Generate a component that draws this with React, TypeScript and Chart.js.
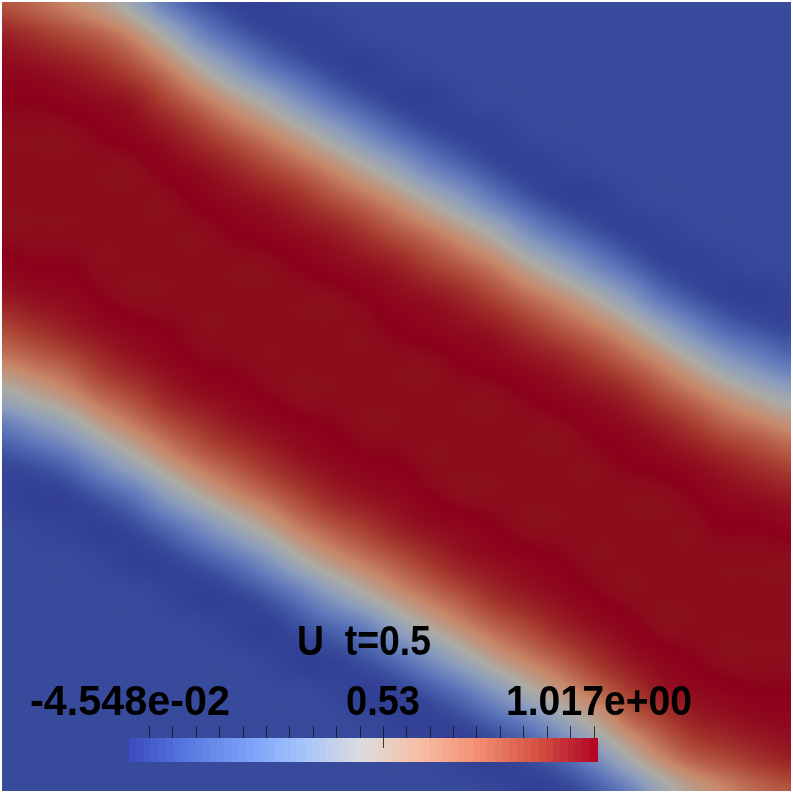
import React, { useEffect, useRef } from "react";
import { Chart, registerables } from "chart.js";

Chart.register(...registerables);

const uColumns: number[][] = [
  [.80,.93,.98,1,1.01,1.01,1.01,1.01,.99,.945,.83,.68,.43,.135,0,-.02,0,0,0,0,0,0,0,0,0],
  [.75,.885,.97,1,1.01,1.01,1.01,1.01,1,.97,.88,.74,.53,.24,.03,-.03,-.01,0,0,0,0,0,0,0,0],
  [.68,.83,.945,.99,1.01,1.01,1.01,1.01,1,.98,.93,.80,.635,.365,.10,-.02,-.02,0,0,0,0,0,0,0,0],
  [.58,.77,.90,.975,1,1.01,1.01,1.01,1.01,1,.97,.89,.755,.545,.26,.04,-.03,-.01,0,0,0,0,0,0,0],
  [.41,.66,.82,.945,.985,1.01,1.01,1.01,1.01,1.01,.99,.945,.835,.68,.44,.14,0,-.03,0,0,0,0,0,0,0],
  [.155,.46,.70,.845,.95,.99,1.01,1.01,1.01,1.01,1,.98,.92,.79,.61,.34,.085,-.02,-.015,0,0,0,0,0,0],
  [.03,.22,.515,.735,.875,.965,.995,1.01,1.01,1.01,1.01,1,.965,.87,.735,.515,.22,.03,-.03,-.005,0,0,0,0,0],
  [-.02,.075,.32,.60,.785,.915,.975,1,1.01,1.01,1.01,1.005,.985,.935,.815,.655,.39,.115,-.015,-.02,0,0,0,0,0],
  [-.03,0,.15,.455,.69,.84,.95,.99,1.01,1.01,1.01,1.01,1,.97,.89,.755,.545,.26,.04,-.03,-.01,0,0,0,0],
  [-.01,-.025,.05,.275,.56,.765,.90,.97,1,1.01,1.01,1.01,1.01,.99,.95,.845,.695,.46,.155,.01,-.03,0,0,0,0],
  [0,-.02,-.01,.12,.40,.66,.82,.94,.985,1.01,1.01,1.01,1.01,1,.98,.92,.79,.61,.33,.08,-.02,-.01,0,0,0],
  [0,-.005,-.03,.03,.23,.52,.74,.88,.965,1,1.01,1.01,1.01,1.01,.995,.96,.86,.715,.49,.17,.02,-.03,-.005,0,0],
  [0,0,-.015,-.02,.095,.36,.63,.80,.93,.98,1,1.01,1.01,1.01,1,.98,.93,.80,.635,.365,.10,-.02,-.02,0,0],
  [0,0,-.005,-.03,.015,.185,.48,.72,.855,.96,.99,1.01,1.01,1.01,1.01,1,.97,.88,.74,.53,.24,.03,-.025,-.005,0],
  [0,0,0,-.01,-.02,.075,.32,.60,.785,.915,.975,1,1.01,1.01,1.01,1.01,.985,.945,.825,.665,.41,.125,-.01,-.02,0],
  [0,0,0,0,-.025,0,.15,.455,.69,.84,.95,.99,1.01,1.01,1.01,1.01,1,.975,.905,.77,.58,.28,.055,-.025,-.01],
  [0,0,0,0,-.005,-.025,.035,.25,.54,.75,.885,.97,1,1.01,1.01,1.01,1.01,.99,.95,.845,.695,.46,.155,.01,-.03],
  [0,0,0,0,0,-.015,-.02,.11,.38,.65,.81,.935,.985,1.01,1.01,1.01,1.01,1,.98,.92,.79,.61,.33,.08,-.02],
  [0,0,0,0,0,-.005,-.03,.025,.21,.51,.73,.87,.965,.995,1.01,1.01,1.01,1.01,1,.965,.88,.74,.52,.23,.03],
  [0,0,0,0,0,0,-.01,-.02,.08,.33,.61,.79,.92,.98,1,1.01,1.01,1.01,1.01,.99,.95,.85,.71,.46,.165],
  [0,0,0,0,0,0,0,-.02,-.005,.135,.43,.68,.83,.945,.99,1.01,1.01,1.01,1.01,1.01,.985,.94,.82,.66,.40],
  [0,0,0,0,0,0,0,-.005,-.025,.03,.24,.53,.74,.88,.97,1,1.01,1.01,1.01,1.01,1,.975,.91,.78,.58],
  [0,0,0,0,0,0,0,0,-.015,-.02,.095,.36,.63,.80,.93,.98,1,1.01,1.01,1.01,1.01,.99,.945,.835,.68],
  [0,0,0,0,0,0,0,0,-.005,-.03,.03,.23,.52,.74,.88,.965,1,1.01,1.01,1.01,1.01,1,.97,.89,.755],
  [0,0,0,0,0,0,0,0,0,-.02,-.005,.13,.42,.67,.83,.94,.99,1.01,1.01,1.01,1.01,1,.98,.93,.80],
];

const fieldStops: [number, number, number, number][] = [
  [-0.045, 46, 58, 145], [0, 56, 74, 155], [0.04, 68, 92, 168], [0.14, 95, 120, 186], [0.32, 138, 155, 190],
  [0.5, 172, 172, 165], [0.68, 200, 135, 105], [0.84, 172, 70, 52], [0.93, 153, 32, 37],
  [0.98, 144, 9, 30], [1.0, 140, 0, 27], [1.01, 140, 14, 28], [1.017, 140, 20, 30],
];
const barStops: [number, number, number, number][] = [
  [0, 59, 76, 192], [0.12, 88, 118, 224], [0.28, 130, 170, 252], [0.38, 170, 198, 250],
  [0.5, 221, 221, 221], [0.62, 248, 190, 165], [0.75, 242, 140, 112], [0.88, 210, 78, 64], [1, 180, 4, 38],
];

const colorMin = -0.04548;
const colorMax = 1.017;
const legendTicks = [0, .0531, .1062, .1593, .2124, .2655, .3186, .3717, .4248, .4779, .531, .5841, .6372, .6903, .7434, .7965, .8496, .9027, .9558, 1.0092];
const legendLongTick = 0.531;
const legendSteps = 64;
const title = "U  t=0.5";
const labelMin = "-4.548e-02";
const labelMid = "0.53";
const labelMax = "1.017e+00";

function lookup(stops: number[][], v: number) {
  if (v <= stops[0][0]) return stops[0].slice(1);
  for (let k = 1; k < stops.length; k++) {
    if (v <= stops[k][0]) {
      const a = stops[k - 1], b = stops[k], f = (v - a[0]) / (b[0] - a[0]);
      return [a[1] + (b[1] - a[1]) * f, a[2] + (b[2] - a[2]) * f, a[3] + (b[3] - a[3]) * f];
    }
  }
  return stops[stops.length - 1].slice(1);
}

function cubic(a: number, b: number, c: number, d: number, t: number) {
  return b + 0.5 * t * (c - a + t * (2 * a - 5 * b + 4 * c - d + t * (3 * (b - c) + d - a)));
}

function sampleField(grid: number[][], x: number, y: number) {
  const n = grid.length - 1;
  const cl = (k: number) => Math.max(0, Math.min(n, k));
  const i = Math.min(n - 1, Math.max(0, Math.floor(x)));
  const j = Math.min(n - 1, Math.max(0, Math.floor(y)));
  const tx = x - i, ty = y - j;
  const rows = [-1, 0, 1, 2].map((dj) =>
    cubic(grid[cl(i - 1)][cl(j + dj)], grid[cl(i)][cl(j + dj)], grid[cl(i + 1)][cl(j + dj)], grid[cl(i + 2)][cl(j + dj)], tx)
  );
  return cubic(rows[0], rows[1], rows[2], rows[3], ty);
}

const fieldPlugin = {
  id: "fieldImage",
  beforeDatasetsDraw(chart: any) {
    const { ctx, chartArea, scales } = chart;
    const w = Math.round(chartArea.right - chartArea.left);
    const h = Math.round(chartArea.bottom - chartArea.top);
    const off = document.createElement("canvas");
    off.width = w;
    off.height = h;
    const octx = off.getContext("2d")!;
    const img = octx.createImageData(w, h);
    const grid: number[][] = uColumns.map((c) => c.slice());
    (chart.data.datasets[0].data as any[]).forEach((p) => { grid[p.x][p.y] = p.v; });
    for (let py = 0; py < h; py++) {
      const gy = scales.y.getValueForPixel(chartArea.top + py + 0.5);
      for (let px = 0; px < w; px++) {
        const gx = scales.x.getValueForPixel(chartArea.left + px + 0.5);
        const c = lookup(fieldStops, sampleField(grid, gx, gy));
        const o = (py * w + px) * 4;
        img.data[o] = c[0];
        img.data[o + 1] = c[1];
        img.data[o + 2] = c[2];
        img.data[o + 3] = 255;
      }
    }
    octx.putImageData(img, 0, 0);
    ctx.drawImage(off, chartArea.left, chartArea.top);
  },
};

const barLeft = 129, barRight = 597, barTop = 738, barBottom = 762;

const legendPlugin = {
  id: "colorLegend",
  afterDraw(chart: any) {
    const { ctx } = chart;
    const scale = chart.scales.c;
    const px = (v: number) => barLeft + (barRight - barLeft) * scale.getDecimalForPixel(scale.getPixelForValue(v));
    const stepW = (barRight - barLeft) / legendSteps;
    ctx.save();
    for (let k = 0; k < legendSteps; k++) {
      const c = lookup(barStops, (k + 0.5) / legendSteps);
      ctx.fillStyle = `rgb(${c[0] | 0},${c[1] | 0},${c[2] | 0})`;
      ctx.fillRect(Math.round(barLeft + k * stepW), barTop, Math.ceil(stepW), barBottom - barTop);
    }
    ctx.strokeStyle = "rgba(20,20,20,0.8)";
    ctx.lineWidth = 1;
    legendTicks.forEach((t) => {
      const x = Math.round(px(t)) + 0.5;
      ctx.beginPath();
      ctx.moveTo(x, 726);
      ctx.lineTo(x, t === legendLongTick ? 748 : 738);
      ctx.stroke();
    });
    ctx.fillStyle = "#000";
    ctx.textBaseline = "alphabetic";
    ctx.font = 'bold 42px "Liberation Sans"';
    ctx.textAlign = "left";
    ctx.fillText(labelMin, 30, 715, 200);
    ctx.fillText(labelMid, 346, 715, 74);
    ctx.fillText(labelMax, 506, 715, 186);
    ctx.fillText(title, 297, 655, 134);
    ctx.restore();
  },
};

export default function App() {
  const ref = useRef<HTMLCanvasElement>(null);
  useEffect(() => {
    document.body.style.margin = "0";
    const points: { x: number; y: number; v: number }[] = [];
    uColumns.forEach((col, i) => col.forEach((v, j) => points.push({ x: i, y: j, v })));
    const chart = new Chart(ref.current!, {
      type: "scatter",
      data: { datasets: [{ label: "U", data: points as any, pointRadius: 0 }] },
      options: {
        animation: false,
        responsive: false,
        layout: { padding: { left: 2, top: 2, right: 2, bottom: 2 } },
        plugins: { legend: { display: false }, tooltip: { enabled: false } },
        scales: {
          x: { type: "linear", min: 0, max: 24, display: false },
          y: { type: "linear", min: 0, max: 24, reverse: true, display: false },
          c: { type: "linear", axis: "x", min: colorMin, max: colorMax, display: false },
        },
      },
      plugins: [fieldPlugin, legendPlugin],
    } as any);
    return () => chart.destroy();
  }, []);
  return <canvas ref={ref} width={793} height={793} style={{ display: "block" }} />;
}
